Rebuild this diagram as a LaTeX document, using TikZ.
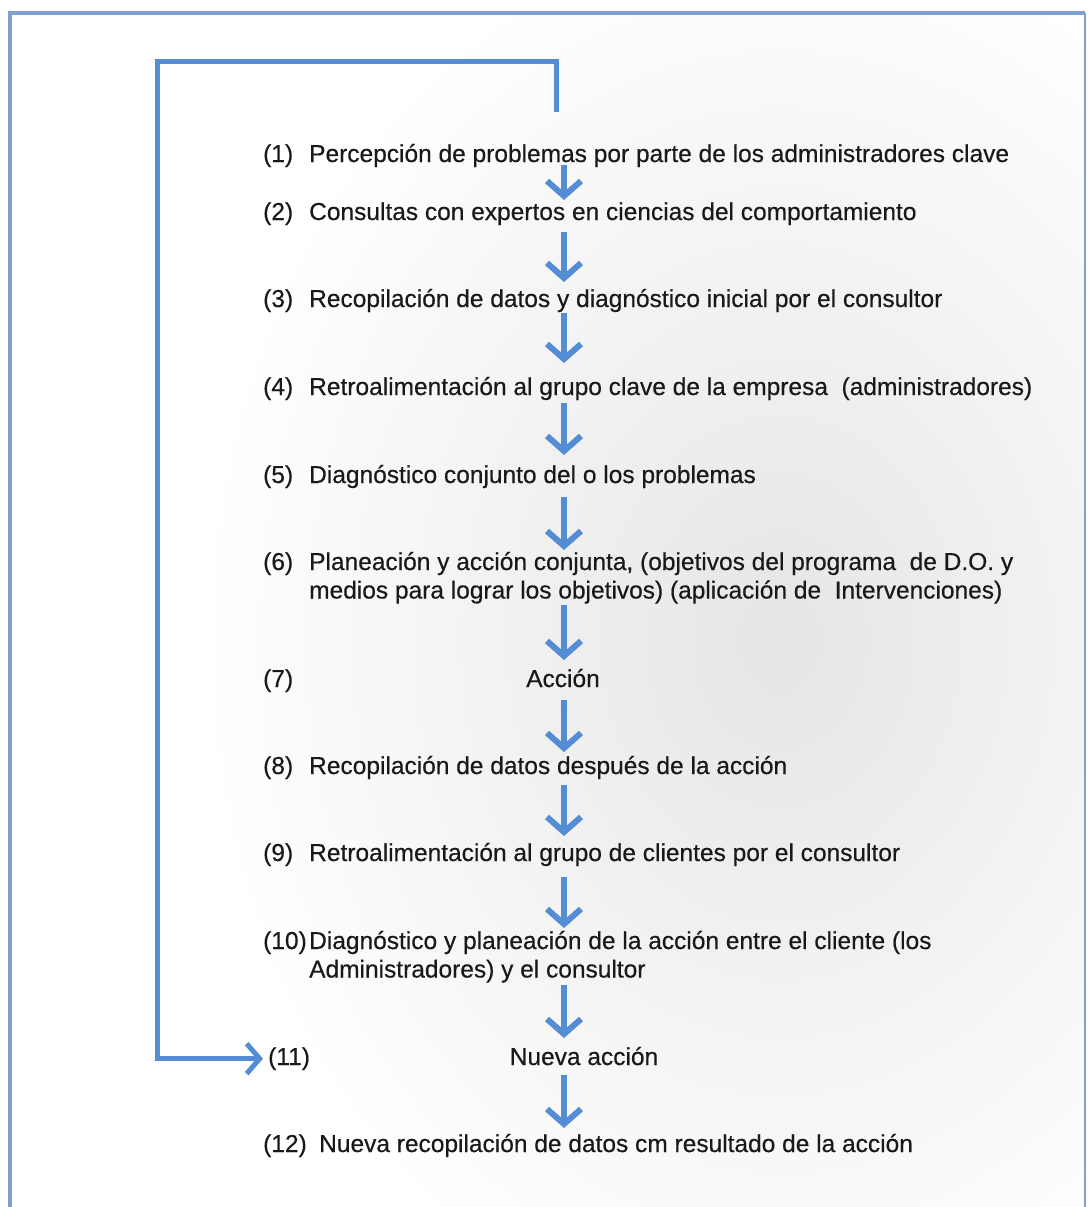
\documentclass[tikz,border=0pt]{standalone}
\usepackage{fontspec}
\setmainfont{Liberation Sans}
\usetikzlibrary{arrows.meta}
\definecolor{arrblue}{RGB}{84,141,212}
\definecolor{framecol}{RGB}{128,160,210}
\definecolor{txt}{RGB}{25,25,25}
\newcommand{\stepfont}{\fontsize{24.5}{28.5}\selectfont\addfontfeature{FakeBold=0.4}}
\tikzset{
  lbl/.style={anchor=base west, inner sep=0pt, text=txt, font=\stepfont},
  ctr/.style={anchor=base, inner sep=0pt, text=txt, font=\stepfont},
  multi/.style={lbl, align=left},
  flowarr/.style={draw=arrblue, line width=6pt, -{Straight Barb[length=15pt,width=34pt]}},
  looparr/.style={draw=arrblue, line width=5pt, -{Straight Barb[length=13pt,width=30pt]}},
}
\begin{document}
\begin{tikzpicture}[x=1pt,y=-1pt]
\useasboundingbox (0,0) rectangle (1088,1207);
\fill[white] (0,0) rectangle (1088,1207);
% background glow
\begin{scope}
\clip (12,15) rectangle (1084,1207);
\shade[inner color=black!10, outer color=white] (780,640) ellipse [x radius=580, y radius=720];
\end{scope}
% frame
\draw[framecol, line width=4pt] (10,1210) -- (10,13) -- (1085,13);
\draw[framecol, line width=2pt] (1085,13) -- (1085,1210);
% steps
\def\nx{263}
\def\tx{309}
\node[lbl] (n1) at (\nx,162) {(1)};
\node[lbl] (t1) at (\tx,162) {Percepción de problemas por parte de los administradores clave};
\node[lbl] (n2) at (\nx,220) {(2)};
\node[lbl] (t2) at (\tx,220) {Consultas con expertos en ciencias del comportamiento};
\node[lbl] (n3) at (\nx,307) {(3)};
\node[lbl] (t3) at (\tx,307) {Recopilación de datos y diagnóstico inicial por el consultor};
\node[lbl] (n4) at (\nx,395) {(4)};
\node[lbl] (t4) at (\tx,395) {Retroalimentación al grupo clave de la empresa\ \ (administradores)};
\node[lbl] (n5) at (\nx,483) {(5)};
\node[lbl] (t5) at (\tx,483) {Diagnóstico conjunto del o los problemas};
\node[lbl] (n6) at (\nx,570) {(6)};
% base anchor of a multi-line node is the baseline of its last line
\node[multi] (t6) at (\tx,598.5) {Planeación y acción conjunta, (objetivos del programa\ \ de D.O. y\\medios para lograr los objetivos) (aplicación de\ \ Intervenciones)};
\node[lbl] (n7) at (\nx,687) {(7)};
\node[ctr] (t7) at (563,687) {Acción};
\node[lbl] (n8) at (\nx,774) {(8)};
\node[lbl] (t8) at (\tx,774) {Recopilación de datos después de la acción};
\node[lbl] (n9) at (\nx,861) {(9)};
\node[lbl] (t9) at (\tx,861) {Retroalimentación al grupo de clientes por el consultor};
\node[lbl] (n10) at (\nx,949) {(10)};
\node[multi] (t10) at (\tx,977.5) {Diagnóstico y planeación de la acción entre el cliente (los\\Administradores) y el consultor};
\node[lbl] (n11) at (268,1065) {(11)};
\node[ctr] (t11) at (584,1065) {Nueva acción};
\node[lbl] (n12) at (\nx,1152) {(12)};
\node[lbl] (t12) at (319,1152) {Nueva recopilación de datos cm resultado de la acción};
% flow arrows
\def\ax{564}
\foreach \i/\a/\b in {1/165/200, 2/232/282, 3/313/363, 4/403/455, 5/497/550, 6/605/660, 7/700/752, 8/785/836, 9/877/928, 10/985/1038, 11/1075/1128}{
  \coordinate (s\i) at (\ax,\a);
  \coordinate (e\i) at (\ax,\b);
  \draw[flowarr] (s\i) -- (e\i);
}
% feedback loop
\coordinate (loopstart) at (556,112);
\coordinate (loopcorner) at (157,62);
\draw[looparr, line join=miter] (loopstart) |- (loopcorner) |- ([xshift=-5pt]n11.west);
\end{tikzpicture}
\end{document}
